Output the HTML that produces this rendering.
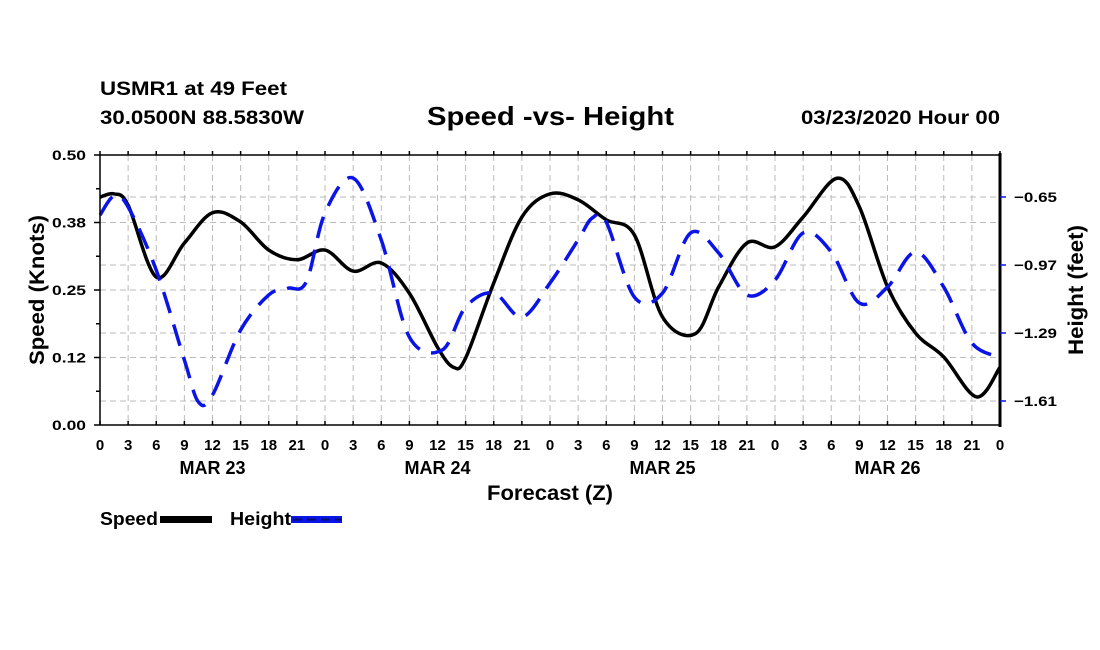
<!DOCTYPE html>
<html><head><meta charset="utf-8">
<style>
html,body{margin:0;padding:0;background:#fff;}
svg{display:block;font-family:"Liberation Sans",Arial,sans-serif;font-weight:bold;}
</style></head>
<body>
<svg id="chart" width="1100" height="650" viewBox="0 0 1100 650" xmlns="http://www.w3.org/2000/svg">
<rect width="1100" height="650" fill="#fff"/>
<text x="100" y="95" font-size="19" textLength="187" lengthAdjust="spacingAndGlyphs">USMR1 at 49 Feet</text>
<text x="100" y="124" font-size="19" textLength="204" lengthAdjust="spacingAndGlyphs">30.0500N 88.5830W</text>
<text x="427" y="125" font-size="26" textLength="247" lengthAdjust="spacingAndGlyphs">Speed -vs- Height</text>
<text x="801" y="124" font-size="19" textLength="199" lengthAdjust="spacingAndGlyphs">03/23/2020 Hour 00</text>
<g id="grid"></g>
<g id="series"></g>
<g id="axes"></g>
<text transform="translate(44,290) rotate(-90)" font-size="21" text-anchor="middle" textLength="150" lengthAdjust="spacingAndGlyphs">Speed (Knots)</text>
<text transform="translate(1083,290) rotate(-90)" font-size="21" text-anchor="middle" textLength="130" lengthAdjust="spacingAndGlyphs">Height (feet)</text>
<text x="487" y="500" font-size="21" textLength="126" lengthAdjust="spacingAndGlyphs">Forecast (Z)</text>
<g>
<g>
<text x="100" y="525" font-size="18" textLength="58" lengthAdjust="spacingAndGlyphs">Speed</text>
<rect x="160" y="516" width="52" height="7" fill="#000"/>
</g>
<g>
<text x="230" y="525" font-size="18" textLength="61" lengthAdjust="spacingAndGlyphs">Height</text>
<rect x="291" y="516" width="51" height="7" fill="#0a14e6"/>
<line x1="293" y1="519.5" x2="342" y2="519.5" stroke="#001070" stroke-width="2" stroke-dasharray="9,5"/>
</g>
</g>
</svg>
<script>
const speedHours=[0,1.5,3,6,9,12,15,18,21,24,27,30,33,36,37.7,39,42,45,48,51,54,57,60,63.5,66,69,72,75,78.6,81,84,87,90,93.5,96];
const speedValues=[.422,.428,.407,.274,.337,.393,.376,.324,.306,.324,.285,.300,.244,.144,.107,.124,.263,.385,.428,.417,.380,.352,.200,.169,.256,.337,.330,.385,.457,.404,.256,.170,.126,.052,.107];
const heightHours=[0,1.5,3,6,9,10.5,12,15,18,20,22,24,27,30,33,36.5,39,42,45,48,51,52.5,54,57,60,63,66,69,72,75,78,81,84,87,90,93,96];
const heightValues=[-0.735,-0.645,-0.697,-0.994,-1.417,-1.615,-1.582,-1.276,-1.111,-1.080,-1.050,-0.725,-0.561,-0.852,-1.309,-1.370,-1.168,-1.102,-1.215,-1.055,-0.852,-0.749,-0.768,-1.121,-1.102,-0.819,-0.914,-1.111,-1.041,-0.819,-0.909,-1.149,-1.074,-0.909,-1.074,-1.337,-1.403];
const leftTicks=[0,0.125,0.25,0.375,0.5];
const leftTickLabels=["0.00","0.12","0.25","0.38","0.50"];
const rightTicks=[-0.65,-0.97,-1.29,-1.61];
const rightTickLabels=["-0.65","-0.97","-1.29","-1.61"];
const hourLabels=["0","3","6","9","12","15","18","21"];
const dayLabels=["MAR 23","MAR 24","MAR 25","MAR 26"];

const X0=100,X1=1000,Y0=425,Y1=155;
const xS=h=>X0+(X1-X0)*h/96;
const yL=v=>Y0-(Y0-Y1)*v/0.5;
const yR=v=>197+(-0.65-v)*212.5;
const NS="http://www.w3.org/2000/svg";
function mk(tag,attrs,parent){const e=document.createElementNS(NS,tag);for(const k in attrs)e.setAttribute(k,attrs[k]);parent.appendChild(e);return e;}
const grid=document.getElementById('grid'),axes=document.getElementById('axes'),series=document.getElementById('series');

for(let h=3;h<96;h+=3){const l=mk('line',{x1:xS(h),x2:xS(h),y1:Y1,y2:Y0,stroke:'#bbb','stroke-width':1,'stroke-dasharray':'6,4'},grid);

}
const hy=[];leftTicks.slice(1,4).forEach(v=>hy.push(yL(v)));rightTicks.forEach(v=>hy.push(yR(v)));
hy.forEach(y=>{const l=mk('line',{x1:X0,x2:X1,y1:y,y2:y,stroke:'#bbb','stroke-width':1,'stroke-dasharray':'6,4'},grid);

});

function smooth(xs,ys){let d='M'+xs[0]+','+ys[0];
for(let i=0;i<xs.length-1;i++){const p0=i?i-1:i,p3=i+2<xs.length?i+2:i+1;
const c1x=xs[i]+(xs[i+1]-xs[p0])/6,c1y=ys[i]+(ys[i+1]-ys[p0])/6;
const c2x=xs[i+1]-(xs[p3]-xs[i])/6,c2y=ys[i+1]-(ys[p3]-ys[i])/6;
d+=' C'+c1x+','+c1y+' '+c2x+','+c2y+' '+xs[i+1]+','+ys[i+1];}return d;}
const sp=mk('path',{d:smooth(speedHours.map(xS),speedValues.map(yL)),fill:'none',stroke:'#000','stroke-width':3.5,'stroke-linejoin':'round'},series);


const hp=mk('path',{d:smooth(heightHours.map(xS),heightValues.map(yR)),fill:'none',stroke:'#0a14e6','stroke-width':3.5,'stroke-dasharray':'22,12'},series);



mk('line',{x1:X0,x2:X1,y1:Y1,y2:Y1,stroke:'#000','stroke-width':1.5},axes);
mk('line',{x1:X0,x2:X1,y1:Y0,y2:Y0,stroke:'#000','stroke-width':1.5},axes);
mk('line',{x1:X0,x2:X0,y1:Y1,y2:Y0,stroke:'#000','stroke-width':1.5},axes);
mk('line',{x1:X1,x2:X1,y1:Y1-2,y2:Y0+2,stroke:'#000','stroke-width':3},axes);
for(let i=0;i<=8;i++){const y=yL(i*0.0625);mk('line',{x1:X0-(i%2?4:6),x2:X0,y1:y,y2:y,stroke:'#000','stroke-width':1.5},axes);}
leftTicks.forEach((v,i)=>{const t=mk('text',{x:52,y:yL(v)+5,'font-size':14,textLength:34,lengthAdjust:'spacingAndGlyphs'},axes);t.textContent=leftTickLabels[i];

});
rightTicks.forEach((v,i)=>{mk('line',{x1:X1,x2:X1+6,y1:yR(v),y2:yR(v),stroke:'#0a14e6','stroke-width':1.5},axes);
const t=mk('text',{x:1014,y:yR(v)+5,'font-size':14,textLength:43,lengthAdjust:'spacingAndGlyphs'},axes);t.textContent=rightTickLabels[i].replace('-','\u2212');

});
for(let h=0;h<=96;h+=3){const x=xS(h);
mk('line',{x1:x,x2:x,y1:Y0,y2:Y0-4,stroke:'#000','stroke-width':1.5},axes);
mk('line',{x1:x,x2:x,y1:Y1,y2:Y1-4,stroke:'#000','stroke-width':1.5},axes);
const t=mk('text',{x:x,y:450,'font-size':15,'text-anchor':'middle'},axes);t.textContent=hourLabels[(h/3)%8];

}
dayLabels.forEach((d,i)=>{const t=mk('text',{x:xS(12+24*i),y:474,'font-size':18,'text-anchor':'middle'},axes);t.textContent=d;

});
</script>
</body></html>
